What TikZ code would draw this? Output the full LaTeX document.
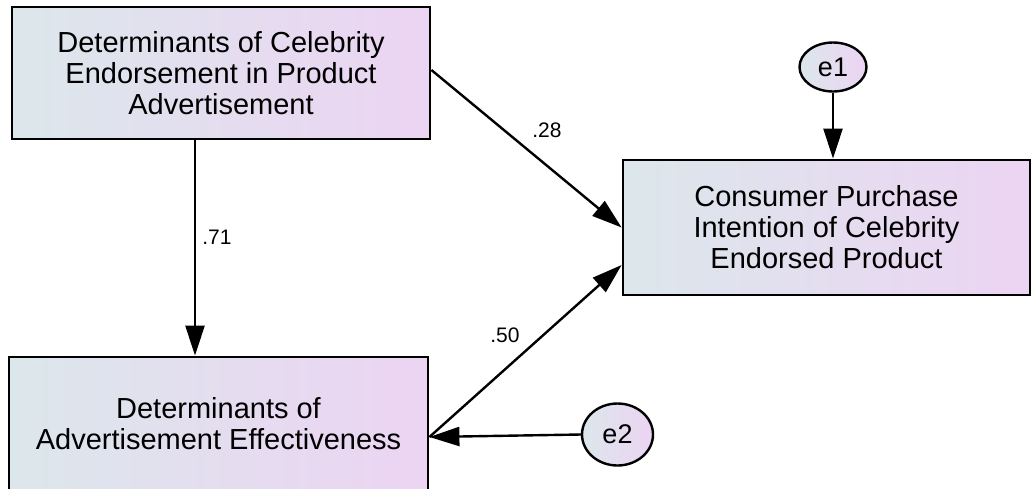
\documentclass[tikz,border=0pt]{standalone}
\usepackage{fontspec}
\setmainfont{Liberation Sans}
\usetikzlibrary{arrows.meta, shapes.geometric}

\definecolor{boxleft}{RGB}{220,231,235}
\definecolor{boxright}{RGB}{236,212,243}

\begin{document}
\begin{tikzpicture}[x=1pt, y=-1pt]
    \tikzset{var/.style={draw=black, line width=2.8pt, left color=boxleft, right color=boxright, align=center, inner sep=0pt, font=\fontsize{29}{31}\selectfont}}
    \tikzset{err/.style={ellipse, draw=black, line width=2.4pt, left color=boxleft, right color=boxright, inner sep=0pt, font=\fontsize{27}{30}\selectfont}}
    \tikzset{coef/.style={font=\fontsize{21}{24}\selectfont}}

    % page
    \useasboundingbox (0,0) rectangle (1031,488);

    % observed variables
    \node (celeb) at (221,73) [var, minimum width=418, minimum height=132] {Determinants of Celebrity\\Endorsement in Product\\Advertisement};
    \node (intent) at (826.5,227.5) [var, minimum width=407, minimum height=135] {Consumer Purchase\\Intention of Celebrity\\Endorsed Product};
    \node (effect) at (218.5,423.5) [var, minimum width=419, minimum height=133] {Determinants of\\Advertisement Effectiveness};

    % error terms
    \node (e1) at (833,67) [err, minimum width=67, minimum height=49] {e1};
    \node (e2) at (617.5,434.5) [err, minimum width=71, minimum height=62] {e2};

    % end points on the boxes
    \coordinate (celeb out)   at ([yshift=3]celeb.east);
    \coordinate (celeb down)  at ([xshift=-26]celeb.south);
    \coordinate (effect top)  at (celeb down |- effect.north);
    \coordinate (effect side) at ([yshift=-13.5]effect.east);
    \coordinate (intent low)  at ([yshift=-37.5]intent.west);
    \coordinate (intent top)  at (e1.south |- intent.north);

    % paths
    \begin{scope}[line width=2.4pt, >={Triangle[length=30pt, width=19pt]}]
      \draw[->] (celeb out) -- (intent.west);
      \draw[->] (celeb down) -- (effect top);
      \draw[->] (effect side) -- (intent low);
      \draw[->] (e1.south) -- (intent top);
      \draw[->] (e2.west) -- (effect side);
    \end{scope}

    % coefficients
    \node (c28) at (547,130) [coef] {.28};
    \node (c71) at (217,237) [coef] {.71};
    \node (c50) at (505,335) [coef] {.50};

  \end{tikzpicture}
\end{document}
